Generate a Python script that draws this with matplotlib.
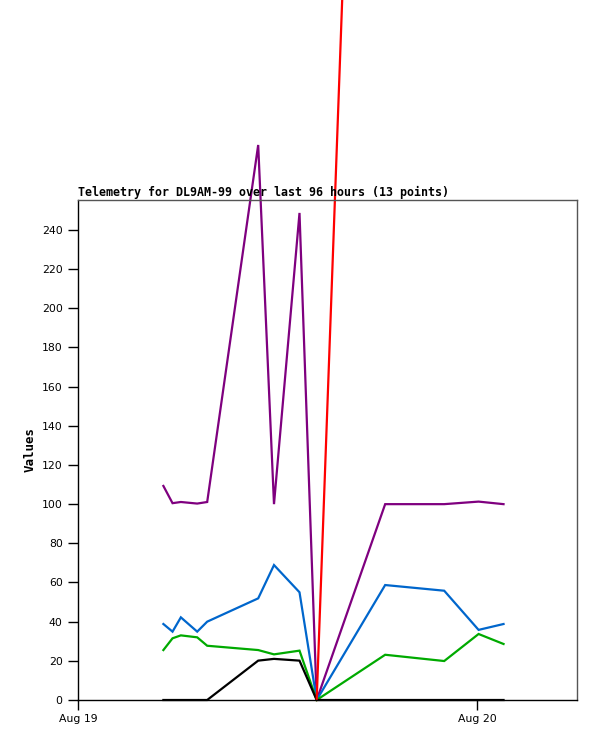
import matplotlib
matplotlib.use("Agg")
import matplotlib.pyplot as plt
import pandas as pd
import numpy as np

times = ["2024-08-19 05:08", "2024-08-19 05:41", "2024-08-19 06:11", "2024-08-19 07:10",
         "2024-08-19 07:46", "2024-08-19 10:50", "2024-08-19 11:47", "2024-08-19 13:19",
         "2024-08-19 14:21", "2024-08-19 18:28", "2024-08-19 22:01", "2024-08-20 00:05",
         "2024-08-20 01:35"]
purple_vals = [109.3, 100.5, 101.1, 100.3, 101.1, 283.4, 100.0, 248.7, 0, 100.0, 100.0, 101.3, 100.0]
blue_vals = [38.8, 34.9, 42.2, 34.9, 40.0, 51.9, 68.9, 55.0, 0, 58.7, 55.8, 35.8, 38.8]
green_vals = [25.5, 31.5, 33.0, 32.0, 27.7, 25.5, 23.3, 25.2, 0, 23.1, 19.9, 33.7, 28.6]
black_vals = [0, 0, 0, 0, 0, 20.1, 21.0, 20.1, 0, 0, 0, 0, 0]
red_vals = [np.nan] * 8 + [0, 960, 960, 960, 960]

title = "Telemetry for DL9AM-99 over last 96 hours (13 points)"
ylabel = "Values"
yticks = list(range(0, 241, 20))
xtick_dates = ["2024-08-19", "2024-08-20"]
xtick_labels = ["Aug 19", "Aug 20"]

t = pd.to_datetime(times)

W, H = 597, 741
fig = plt.figure(figsize=(W / 100, H / 100), dpi=100)
ax = fig.add_axes([78 / W, (H - 700) / H, 499 / W, 500 / H])

series = [
    (purple_vals, "#7f007f"),
    (blue_vals, "#0066cc"),
    (green_vals, "#00aa00"),
    (black_vals, "#000000"),
    (red_vals, "#ff0000"),
]
for vals, col in series:
    ax.plot(t, vals, color=col, lw=1.6, clip_on=False, solid_joinstyle="miter")

ax.set_xlim(pd.Timestamp("2024-08-19 00:00"), pd.Timestamp("2024-08-20 06:00"))
ax.set_ylim(0, 255.3)
ax.set_yticks(yticks)
ax.set_xticks(pd.to_datetime(xtick_dates))
ax.set_xticklabels(xtick_labels)

for s in ["top", "right"]:
    ax.spines[s].set_color("#555555")
for s in ["left", "bottom"]:
    ax.spines[s].set_color("black")
for s in ax.spines.values():
    s.set_linewidth(1.0)

ax.tick_params(axis="both", direction="out", length=7, width=1, color="black",
               labelsize=7.8, pad=4)
ax.tick_params(axis="x", pad=3)
for lab in ax.get_xticklabels() + ax.get_yticklabels():
    lab.set_family("DejaVu Sans")

ax.set_title(title, loc="left", fontsize=8.4, fontweight="bold",
             family="DejaVu Sans Mono", pad=3)
ax.set_ylabel(ylabel, fontsize=9, fontweight="bold", family="DejaVu Sans Mono", labelpad=4)

fig.savefig("out.png", dpi=100)
